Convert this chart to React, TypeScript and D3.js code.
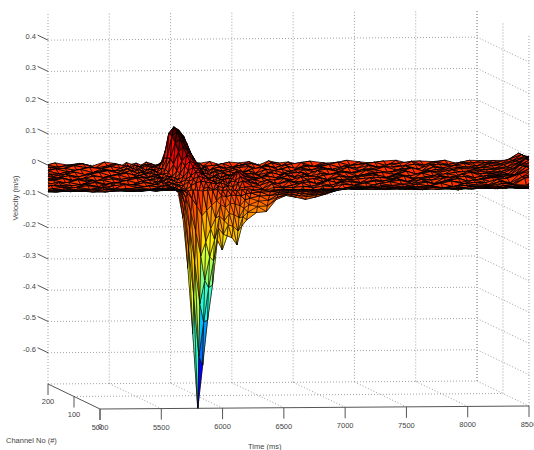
import { useEffect, useRef } from 'react'
import * as d3 from 'd3'

// surface samples. the mesh runs past the axis limits and gets clipped to the box
const times = [
  4560, 4660, 4760, 4860, 4960, 5060, 5160, 5260, 5360, 5460,
  5540, 5600, 5640, 5680, 5720, 5760, 5800, 5840, 5880, 5920, 5960, 6000, 6040, 6080, 6120, 6160, 6200, 6240,
  6320, 6400, 6480, 6560, 6640, 6720, 6800, 6880, 6960, 7040,
  7140, 7240, 7340, 7440, 7540, 7640, 7740, 7840, 7940, 8040, 8140, 8240, 8340, 8440, 8540, 8640, 8740, 8840, 8940,
]

// velocity in mm/s, one list per channel
const channel200 = [
  2, 8, -3, 6, -5, 7, 0, 5, -4, 9,
  4, -3, 7, 1, 5, -2, 8, 3, -4, 6, 2, 7, -3, 5, 8, -1, 6, 3,
  8, -2, 6, 3, 7, -4, 9, 2, 5, -3,
  7, 2, -3, 9, 4, -1, 6, 8, -2, 5, 3, 7, -4, 6, 5, 5, 5, 28, 5,
]
const channel188 = [
  -4, 6, 3, -7, 5, -2, 4, 8, -6, 1,
  6, 1, -6, 3, -3, 4, 5, 2, 4, 20, 30, 28, 12, 3, 5, -3, 7, -2,
  -4, 6, -7, 2, 5, -5, 7, -2, 3, 8,
  -6, 4, 8, -3, 2, 7, -5, 3, 9, -4, 6, -2, 5, 2, 3, 4, 14, 28, 7,
]
const channel175 = [
  7, -2, 5, -6, 3, -4, 8, 1, -5, 4,
  -2, 6, -5, 4, 1, 6, 3, 5, 10, 40, 60, 50, 30, 10, -3, 6, -5, 3,
  7, -4, 2, 8, -6, 5, -3, 6, -8, 4,
  -1, 6, -5, 3, 8, -4, 7, -2, 5, -7, 4, -3, 6, -2, 4, 4, 15, 28, 8,
]
const channel163 = [
  5, -4, 8, -2, -6, 4, -3, 7, 2, -5,
  -3, 5, -2, 6, -4, 5, 6, 15, 60, 95, 100, 85, 50, 15, 4, -3, 6, -5,
  5, -7, 3, 6, -3, 7, -5, 4, -2, 6,
  3, -5, 6, -2, 7, -4, 1, 5, -6, 8, -3, 6, -1, -3, 3, 6, 18, 32, 10,
]
const channel150 = [
  -3, 5, -7, 4, 8, -2, 6, -5, 3, -6,
  7, -2, 4, -3, 5, 2, 8, 40, 120, 140, 130, 110, 66, 18, 0, 5, -4, 6,
  -3, 6, -6, 4, 8, -4, 2, -7, 6, -1,
  5, -3, 7, -6, 2, 8, -4, 3, -7, 6, -2, 4, -5, 3, 0, 5, 20, 40, 12,
]
const channel138 = [
  -6, 4, -2, 7, -3, 5, -7, 2, 6, -4,
  6, -4, 3, -2, 6, 1, 12, 45, 115, 130, 115, 92, 55, 14, -2, 6, -3, 4,
  -5, 7, -2, -6, 6, 3, -7, 4, 5, -3,
  6, -2, -6, 5, 3, -7, 4, 8, -3, 2, -6, 5, 3, 1, 2, 7, 28, 40, 12,
]
const channel125 = [
  3, -6, 5, 1, -4, 7, -2, 6, -7, 2,
  -4, 6, -1, 3, 8, 0, 15, 50, 100, 110, 90, 70, 40, 10, 0, -4, 7, -2,
  6, -3, 8, -5, 2, -7, 5, 1, -4, 7,
  -6, 5, -2, 8, -4, 1, 6, -7, 3, -1, 7, -5, 2, -2, 0, 10, 40, 30, 10,
]
const channel113 = [
  4, 7, -5, -1, 6, -3, 5, -6, 3, 8,
  -2, 5, -6, 4, 2, 4, 8, 35, 75, 90, 75, 58, 30, 5, 6, -5, 2, 7,
  -4, 5, 3, -7, 6, -2, 4, 7, -6, 3,
  -3, 6, -7, 2, 5, -2, 8, -4, 6, -5, 3, 7, -2, -1, 1, 20, 40, 25, 8,
]
const channel100 = [
  -5, 3, 7, -2, 6, -7, 4, -1, 8, -4,
  5, -3, 2, 6, -4, 3, 0, 20, 50, 70, 60, 45, 20, 0, -5, 6, -3, 5,
  4, 7, -5, 3, -6, 8, -2, 5, -7, 2,
  7, -4, 1, 6, -8, 3, -2, 7, -5, 4, -3, 8, -6, 0, 2, 30, 40, 20, 6,
]
const channel88 = [
  -7, 5, 1, 6, -4, 3, -6, 7, -2, 4,
  3, -5, 6, 2, -3, 5, 2, 15, 40, 55, 48, 32, 10, -3, 5, -2, 6, 8,
  14, 3, -6, 5, -2, 7, -5, 4, 2, -7,
  4, -6, 3, 7, -2, 5, -5, -1, 6, -3, 8, -4, 2, 1, 6, 32, 32, 15, 4,
]
const channel75 = [
  6, -4, 3, 8, -6, 1, -8, 5, -3, 7,
  -5, 2, 7, -3, 5, -2, 3, 10, 30, 40, 35, 20, 2, -5, 7, -3, 4, 18,
  25, -4, 6, -7, 5, -2, 8, -5, 3, -6,
  -3, 7, -6, 4, -1, 8, -7, 2, 6, -4, 5, -8, 3, 3, 10, 35, 20, 8, 0,
]
const channel65 = [
  3, -6, 6, -3, 7, -2, 5, -5, 4, -7,
  5, -2, 3, -6, 6, -4, -3, 6, 18, 30, 25, 15, 3, -2, 5, 6, 8, 28,
  15, 3, -6, 2, 7, -5, -2, 6, -4, 5,
  -5, 3, 7, -4, 2, -6, 6, -2, 4, 8, -7, 1, 5, 2, 15, 32, 12, 5, -2,
]
const channel55 = [
  -2, 7, -7, 3, -5, 8, -4, 2, -9, 6,
  -3, 5, -6, 2, -4, -8, -10, 4, 10, 20, 15, 10, 4, -4, 6, -5, 12, 35,
  8, -5, 7, -8, 4, -3, 6, -6, 3, -4,
  6, -4, 2, -7, 8, -3, 5, -9, 1, 7, -5, 3, -8, 6, 20, 30, -6, 2, 7,
]
const channel45 = [
  -5, 2, 7, -4, 1, 6, -6, 4, -3, 5,
  -2, 6, -4, 1, -6, -12, -20, -6, 3, 8, 5, 2, -1, 3, -4, 5, 8, 22,
  3, -7, 5, -2, 6, -5, 3, -4, 7, -1,
  3, -6, 5, -1, 7, -4, 2, -7, 4, -2, 6, -3, 8, -5, 15, 25, 5, -4, 3,
]
const channel35 = [
  4, -6, 2, -9, 5, -3, 7, -8, 1, -5,
  3, -4, -2, -8, -20, -30, -60, -45, -30, -12, -6, -18, -4, -10, -2, -8, 6, 12,
  -6, -14, 3, -9, -3, 5, -7, 2, -4, 6,
  -5, 3, -8, 6, -2, -9, 4, -6, 7, -3, 2, -7, 5, -4, 15, 20, -5, 6, -2,
]
const channel28 = [
  -3, 5, -1, -7, 3, -5, 2, 6, -4, 1,
  -3, 2, -4, -6, -30, -50, -90, -80, -60, -30, -18, -25, -22, -20, -18, -20, -8, -5,
  -16, -18, -6, -8, -7, -4, -9, -3, -6, 2,
  -2, -6, 4, -3, -7, 1, -5, 3, -8, 2, -4, -6, 1, -3, -6, 4, -2, -7, 3,
]
const channel20 = [
  -8, -3, -10, 2, -6, -12, -4, -9, -2, -7,
  -5, -3, -5, -16, -100, -260, -470, -710, -570, -426, -314, -170, -202, -157, -163, -186, -125, -106,
  -83, -80, -42, -29, -35, -42, -35, -26, -16, -8,
  -3, -9, -1, -6, -11, -4, -2, -8, -5, -1, -7, -10, -3, -6, -2, -9, -5, -3, -7,
]
const channel16 = [
  -5, -7, -2, -9, -4, 1, -8, -3, -10, -6,
  -4, -6, -4, -12, -78, -200, -350, -540, -430, -320, -235, -130, -150, -120, -125, -140, -95, -80,
  -62, -60, -33, -22, -27, -31, -26, -20, -12, -6,
  -6, -2, -8, -4, -1, -9, -5, -7, -2, -10, -3, -6, -8, -1, -5, -4, -9, -2, -6,
]
const channel12 = [
  -9, -4, -7, -1, -10, -6, -2, -8, -5, -3,
  -6, -2, -5, -9, -52, -135, -240, -370, -295, -220, -165, -90, -105, -82, -86, -96, -66, -55,
  -43, -41, -22, -15, -18, -22, -18, -14, -9, -5,
  -8, -4, -1, -7, -5, -10, -2, -6, -9, -3, -5, -1, -7, -4, -8, -2, -6, -3, -5,
]
const channel8 = [
  -4, -8, -3, -6, -1, -9, -5, -2, -7, -4,
  -3, -5, -2, -6, -30, -78, -140, -215, -170, -128, -95, -52, -60, -48, -50, -56, -38, -32,
  -25, -24, -13, -9, -11, -13, -11, -8, -6, -3,
  -2, -7, -5, -1, -8, -3, -6, -4, -10, -1, -5, -7, -2, -6, -3, -8, -4, -1, -6,
]
const channel4 = [
  -6, -2, -5, -3, -7, -1, -4, -6, -2, -5,
  -2, -4, -3, -4, -12, -31, -55, -85, -68, -52, -38, -22, -25, -20, -21, -23, -16, -14,
  -11, -10, -6, -5, -5, -6, -5, -4, -3, -2,
  -4, -1, -6, -3, -2, -7, -1, -5, -3, -6, -2, -4, -1, -5, -3, -6, -2, -4, -1,
]
const channel0 = [
  -3, -1, -4, 0, -2, -5, -1, -3, 0, -4,
  -2, -1, -3, -2, -4, -1, -3, -5, -2, -3, -1, -4, -2, -3, -5, -1, -2, -3,
  -2, -4, -1, -3, -2, -5, -1, -3, -4, -2,
  -1, -3, -2, -4, -1, -3, -5, -2, -1, -3, -2, -4, -1, -3, -2, -1, -3, -2, -4,
]

// back to front, the faces are painted in this order
const channels = [200, 188, 175, 163, 150, 138, 125, 113, 100, 88, 75, 65, 55, 45, 35, 28, 20, 16, 12, 8, 4, 0]
const velocityRows = [
  channel200, channel188, channel175, channel163, channel150, channel138, channel125, channel113,
  channel100, channel88, channel75, channel65, channel55, channel45, channel35, channel28,
  channel20, channel16, channel12, channel8, channel4, channel0,
]

const timeTicks = [5000, 5500, 6000, 6500, 7000, 7500, 8000, 8500]
const channelTicks = [0, 100, 200]
const velocityTicks = [0.4, 0.3, 0.2, 0.1, 0, -0.1, -0.2, -0.3, -0.4, -0.5, -0.6]

const font = 'Liberation Sans, Arial, sans-serif'
const axisColor = '#555'
const gridColor = '#969696'

export default function App() {
  const svgRef = useRef<SVGSVGElement>(null)

  useEffect(() => {
    const svg = d3.select(svgRef.current)
    svg.selectAll('*').remove()

    // oblique view, each data axis adds its own screen offset
    const xFromTime = d3.scaleLinear().domain([5000, 8500]).range([0, 429])
    const xFromChannel = d3.scaleLinear().domain([0, 200]).range([100, 48])
    const yFromTime = d3.scaleLinear().domain([5000, 8500]).range([0, -3])
    const yFromChannel = d3.scaleLinear().domain([0, 200]).range([409, 384])
    const yFromVelocity = d3.scaleLinear().domain([-0.7, 0.49]).range([0, -372])

    const px = (t: number, c: number) => xFromChannel(c) + xFromTime(t)
    const py = (t: number, c: number, v: number) => yFromChannel(c) + yFromTime(t) + yFromVelocity(v)

    const color = d3.scaleLinear<string>()
      .domain([-0.71, -0.605, -0.395, -0.29, -0.185, 0.05, 0.13])
      .range(['#00008f', '#0000ff', '#00ffff', '#80ff80', '#ffff00', '#ff0000', '#400000'])
      .clamp(true)

    const zMin = -0.7
    const zMax = 0.49

    const grid = svg.append('g')
      .attr('fill', 'none')
      .attr('stroke', gridColor)
      .attr('stroke-width', 0.9)
      .attr('stroke-dasharray', '1 2')

    const gridLine = (a: number[], b: number[]) => {
      grid.append('line')
        .attr('x1', px(a[0], a[1])).attr('y1', py(a[0], a[1], a[2]))
        .attr('x2', px(b[0], b[1])).attr('y2', py(b[0], b[1], b[2]))
    }

    // back wall and floor
    timeTicks.forEach(t => {
      gridLine([t, 200, zMin], [t, 200, zMax])
      if (t > 5000) gridLine([t, 200, zMin], [t, 0, zMin])
    })
    // right wall
    channelTicks.forEach(c => gridLine([8500, c, zMin], [8500, c, zMax]))
    channelTicks.filter(c => c > 0).forEach(c => gridLine([5000, c, zMin], [8500, c, zMin]))
    velocityTicks.forEach(v => {
      gridLine([5000, 200, v], [8500, 200, v])
      gridLine([8500, 200, v], [8500, 0, v])
    })

    svg.append('clipPath')
      .attr('id', 'box-clip')
      .append('rect')
      .attr('x', px(5000, 200))
      .attr('y', 0)
      .attr('width', px(8500, 0) - px(5000, 200))
      .attr('height', 450)

    const surface = svg.append('g')
      .attr('clip-path', 'url(#box-clip)')
      .attr('stroke', '#000')
      .attr('stroke-linejoin', 'round')

    const face = (pts: number[][], value: number | null) => {
      const mean = d3.mean(pts, p => p[2]) as number
      surface.append('path')
        .attr('d', d3.line()(pts.map(p => [px(p[0], p[1]), py(p[0], p[1], p[2])])) + 'Z')
        .attr('fill', color(value === null ? mean : value))
        .attr('stroke-width', mean > -0.03 ? 0.8 : 0.55)
    }

    for (let r = 0; r < channels.length - 1; r++) {
      for (let i = 0; i < times.length - 1; i++) {
        const a = [times[i], channels[r], velocityRows[r][i] / 1000]
        const b = [times[i + 1], channels[r], velocityRows[r][i + 1] / 1000]
        const c = [times[i + 1], channels[r + 1], velocityRows[r + 1][i + 1] / 1000]
        const d = [times[i], channels[r + 1], velocityRows[r + 1][i] / 1000]
        // behind the trough the back corner keeps the band orange,
        // on the falling side of the trough the shallow corner gives the orange strip
        let value: number | null = null
        if (channels[r] > 20) value = a[2]
        else if (b[2] < a[2]) value = d[2]
        face([a, b, d], value)
        face([b, c, d], value)
      }
    }

    // axes
    const axis = svg.append('g').attr('stroke', axisColor).attr('stroke-width', 1).attr('fill', 'none')
    const axisLine = (x1: number, y1: number, x2: number, y2: number) => {
      axis.append('line').attr('x1', x1).attr('y1', y1).attr('x2', x2).attr('y2', y2)
    }
    axisLine(px(5000, 0), py(5000, 0, zMin), px(8500, 0), py(8500, 0, zMin))
    axisLine(px(5000, 0), py(5000, 0, zMin), px(5000, 200), py(5000, 200, zMin))

    const labels = svg.append('g')
      .attr('font-family', font)
      .attr('font-size', 7.5)
      .attr('fill', '#444')

    timeTicks.forEach(t => {
      const x = px(t, 0)
      const y = py(t, 0, zMin)
      axisLine(x, y, x, y + 11)
      labels.append('text').attr('x', x).attr('y', y + 21).attr('text-anchor', 'middle').text(t)
    })
    channelTicks.forEach(c => {
      const x = px(5000, c)
      const y = py(5000, c, zMin)
      axisLine(x, y, x, y + 11)
      labels.append('text').attr('x', x).attr('y', y + 20).attr('text-anchor', 'middle').text(c)
    })
    velocityTicks.forEach(v => {
      const x = px(5000, 200)
      const y = py(5000, 200, v)
      axisLine(px(5000, 240), py(5000, 240, v), x, y)
      labels.append('text').attr('x', 36).attr('y', y - 1).attr('text-anchor', 'end').text(v)
    })

    labels.append('text').attr('x', 6).attr('y', 443).text('Channel No (#)')
    labels.append('text').attr('x', 248).attr('y', 449).text('Time (ms)')
    labels.append('text')
      .attr('transform', 'translate(18,198) rotate(-90)')
      .attr('text-anchor', 'middle')
      .text('Velocity (m/s)')
  }, [])

  return (
    <svg
      ref={svgRef}
      width={534}
      height={450}
      style={{ position: 'absolute', left: 0, top: 0, background: '#fff' }}
    />
  )
}
